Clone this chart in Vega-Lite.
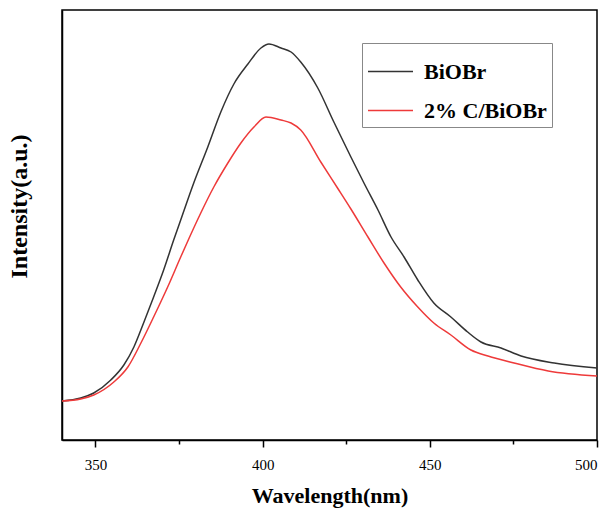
{
  "$schema": "https://vega.github.io/schema/vega-lite/v6.json",
  "width": 535,
  "height": 430,
  "autosize": "none",
  "padding": {"left": 62, "top": 10, "right": 14, "bottom": 68},
  "background": "white",
  "config": {
    "view": {"stroke": "black", "strokeWidth": 1.5},
    "font": "Liberation Serif"
  },
  "data": {
    "values": [
      {"wl": 340, "v": 39, "s": "BiOBr"},
      {"wl": 345.6, "v": 42, "s": "BiOBr"},
      {"wl": 349.5, "v": 47, "s": "BiOBr"},
      {"wl": 354.6, "v": 60, "s": "BiOBr"},
      {"wl": 358.5, "v": 75, "s": "BiOBr"},
      {"wl": 361.5, "v": 93, "s": "BiOBr"},
      {"wl": 364.4, "v": 117, "s": "BiOBr"},
      {"wl": 367.4, "v": 143, "s": "BiOBr"},
      {"wl": 370.4, "v": 170, "s": "BiOBr"},
      {"wl": 373.4, "v": 200, "s": "BiOBr"},
      {"wl": 375.5, "v": 220, "s": "BiOBr"},
      {"wl": 379.4, "v": 257, "s": "BiOBr"},
      {"wl": 383.6, "v": 293, "s": "BiOBr"},
      {"wl": 387.5, "v": 328, "s": "BiOBr"},
      {"wl": 391.4, "v": 356, "s": "BiOBr"},
      {"wl": 395.6, "v": 376, "s": "BiOBr"},
      {"wl": 399.5, "v": 392, "s": "BiOBr"},
      {"wl": 401.9, "v": 396, "s": "BiOBr"},
      {"wl": 405.5, "v": 392, "s": "BiOBr"},
      {"wl": 408.5, "v": 388, "s": "BiOBr"},
      {"wl": 411.4, "v": 378, "s": "BiOBr"},
      {"wl": 416.5, "v": 352, "s": "BiOBr"},
      {"wl": 421.3, "v": 318, "s": "BiOBr"},
      {"wl": 426.4, "v": 283, "s": "BiOBr"},
      {"wl": 430.3, "v": 257, "s": "BiOBr"},
      {"wl": 434.5, "v": 230, "s": "BiOBr"},
      {"wl": 438.4, "v": 203, "s": "BiOBr"},
      {"wl": 442.3, "v": 183, "s": "BiOBr"},
      {"wl": 446.4, "v": 160, "s": "BiOBr"},
      {"wl": 451.2, "v": 137, "s": "BiOBr"},
      {"wl": 456.3, "v": 123, "s": "BiOBr"},
      {"wl": 461.3, "v": 108, "s": "BiOBr"},
      {"wl": 465.3, "v": 98, "s": "BiOBr"},
      {"wl": 471.3, "v": 92, "s": "BiOBr"},
      {"wl": 477.3, "v": 84, "s": "BiOBr"},
      {"wl": 487.2, "v": 77, "s": "BiOBr"},
      {"wl": 500, "v": 72, "s": "BiOBr"},
      {"wl": 340, "v": 39, "s": "2% C/BiOBr"},
      {"wl": 345.6, "v": 41, "s": "2% C/BiOBr"},
      {"wl": 349.5, "v": 45, "s": "2% C/BiOBr"},
      {"wl": 355.5, "v": 58, "s": "2% C/BiOBr"},
      {"wl": 359.7, "v": 73, "s": "2% C/BiOBr"},
      {"wl": 363.6, "v": 97, "s": "2% C/BiOBr"},
      {"wl": 367.4, "v": 123, "s": "2% C/BiOBr"},
      {"wl": 371.6, "v": 153, "s": "2% C/BiOBr"},
      {"wl": 375.5, "v": 183, "s": "2% C/BiOBr"},
      {"wl": 377.9, "v": 201, "s": "2% C/BiOBr"},
      {"wl": 381.5, "v": 227, "s": "2% C/BiOBr"},
      {"wl": 385.4, "v": 253, "s": "2% C/BiOBr"},
      {"wl": 389.6, "v": 277, "s": "2% C/BiOBr"},
      {"wl": 393.5, "v": 297, "s": "2% C/BiOBr"},
      {"wl": 397.4, "v": 313, "s": "2% C/BiOBr"},
      {"wl": 401, "v": 323, "s": "2% C/BiOBr"},
      {"wl": 405.5, "v": 320, "s": "2% C/BiOBr"},
      {"wl": 408.5, "v": 317, "s": "2% C/BiOBr"},
      {"wl": 411.4, "v": 310, "s": "2% C/BiOBr"},
      {"wl": 417.4, "v": 278, "s": "2% C/BiOBr"},
      {"wl": 422.4, "v": 252, "s": "2% C/BiOBr"},
      {"wl": 426.4, "v": 231, "s": "2% C/BiOBr"},
      {"wl": 431.5, "v": 203, "s": "2% C/BiOBr"},
      {"wl": 436.3, "v": 177, "s": "2% C/BiOBr"},
      {"wl": 441.3, "v": 153, "s": "2% C/BiOBr"},
      {"wl": 446.4, "v": 133, "s": "2% C/BiOBr"},
      {"wl": 451.2, "v": 117, "s": "2% C/BiOBr"},
      {"wl": 456.3, "v": 105, "s": "2% C/BiOBr"},
      {"wl": 462.3, "v": 90, "s": "2% C/BiOBr"},
      {"wl": 467.4, "v": 84, "s": "2% C/BiOBr"},
      {"wl": 475.2, "v": 77, "s": "2% C/BiOBr"},
      {"wl": 485.4, "v": 69, "s": "2% C/BiOBr"},
      {"wl": 500, "v": 64, "s": "2% C/BiOBr"}
    ]
  },
  "mark": {"type": "line", "strokeWidth": 1.5, "interpolate": "monotone", "clip": true},
  "encoding": {
    "x": {
      "field": "wl",
      "type": "quantitative",
      "scale": {"domain": [340, 500], "nice": false, "zero": false},
      "axis": {
        "values": [350, 375, 400, 425, 450, 475, 500],
        "labelExpr": "datum.value % 50 === 0 ? datum.label : ''",
        "tickSize": {"condition": {"test": "datum.value % 50 === 0", "value": 7}, "value": 4},
        "tickColor": "black",
        "tickWidth": 1.5,
        "domainColor": "black",
        "domainWidth": 1.5,
        "grid": false,
        "labelFont": "Liberation Serif",
        "labelFontSize": 15,
        "labelColor": "black",
        "labelPadding": 10,
        "title": "Wavelength(nm)",
        "titleFont": "Liberation Serif",
        "titleFontSize": 22,
        "titleFontWeight": "bold",
        "titleColor": "black",
        "titlePadding": 13
      }
    },
    "y": {
      "field": "v",
      "type": "quantitative",
      "scale": {"domain": [0, 430], "nice": false},
      "axis": {
        "ticks": false,
        "labels": false,
        "grid": false,
        "domainColor": "black",
        "domainWidth": 1.5,
        "title": "Intensity(a.u.)",
        "titleFont": "Liberation Serif",
        "titleFontSize": 24,
        "titleFontWeight": "bold",
        "titleColor": "black",
        "titlePadding": 31,
        "titleY": 196
      }
    },
    "color": {
      "field": "s",
      "type": "nominal",
      "scale": {"domain": ["BiOBr", "2% C/BiOBr"], "range": ["#333333", "#ee3a3a"]},
      "legend": {
        "title": null,
        "orient": "none",
        "legendX": 300,
        "legendY": 33,
        "symbolType": "stroke",
        "symbolSize": 2025,
        "symbolStrokeWidth": 1.5,
        "labelFont": "Liberation Serif",
        "labelFontSize": 22,
        "labelFontWeight": "bold",
        "labelColor": "black",
        "labelOffset": 10,
        "rowPadding": 4,
        "strokeColor": "#888888",
        "padding": 5,
        "fillColor": "white"
      }
    }
  }
}
